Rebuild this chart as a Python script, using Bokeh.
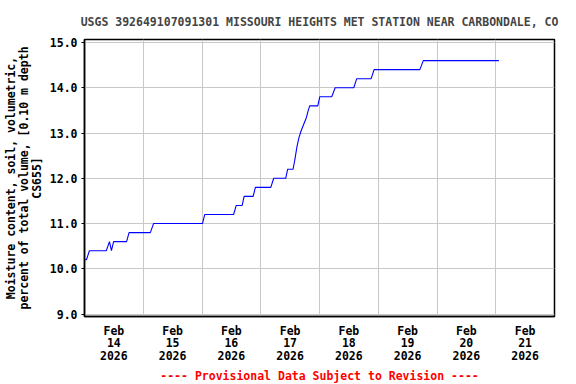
import pandas as pd
from bokeh.plotting import figure
from bokeh.models import FixedTicker, Range1d, Title, NumeralTickFormatter
from bokeh.embed import file_html
from bokeh.resources import INLINE

# ---- data ----
start = pd.Timestamp("2026-02-14 00:00")
hours = [0.0, 0.8, 2.0, 8.9, 10.2, 11.0, 11.9, 17.2, 18.2, 26.9, 28.2, 48.2, 49.1,
         60.9, 62.0, 64.4, 65.2, 68.9, 69.8, 76.1, 77.3, 82.2, 83.0, 85.2, 85.9,
         86.8, 87.6, 88.5, 89.6, 90.7, 91.4, 92.0, 95.3, 96.1, 101.0, 102.4,
         110.0, 111.2, 117.1, 118.3, 137.0, 138.4, 169.3]
moisture = [10.2, 10.2, 10.4, 10.4, 10.6, 10.4, 10.6, 10.6, 10.8, 10.8, 11.0, 11.0, 11.2,
            11.2, 11.4, 11.4, 11.6, 11.6, 11.8, 11.8, 12.0, 12.0, 12.2, 12.2, 12.4,
            12.7, 12.9, 13.05, 13.2, 13.35, 13.5, 13.6, 13.6, 13.8, 13.8, 14.0,
            14.0, 14.2, 14.2, 14.4, 14.4, 14.6, 14.6]
y_ticks = [9.0, 10.0, 11.0, 12.0, 13.0, 14.0, 15.0]
day_labels = ["Feb\n14\n2026", "Feb\n15\n2026", "Feb\n16\n2026", "Feb\n17\n2026",
              "Feb\n18\n2026", "Feb\n19\n2026", "Feb\n20\n2026", "Feb\n21\n2026"]
title_text = "USGS 392649107091301 MISSOURI HEIGHTS MET STATION NEAR CARBONDALE, CO"
y_label = "Moisture content, soil, volumetric,\npercent of total volume, [0.10 m depth\nCS655]"
note_text = "---- Provisional Data Subject to Revision ----"

times = [start + pd.Timedelta(hours=h) for h in hours]

FONT = "DejaVu Sans Mono"
FS = "11.5px"

def ms(ts):
    return ts.value / 1e6

noon_ticks = [ms(start + pd.Timedelta(hours=12 + 24 * i)) for i in range(len(day_labels))]
midnight_ticks = [ms(start + pd.Timedelta(days=i)) for i in range(9)]

p = figure(frame_width=470, frame_height=277, x_axis_type="datetime",
           output_backend="svg", toolbar_location=None,
           x_range=Range1d(ms(start), ms(start + pd.Timedelta(days=8))),
           y_range=Range1d(8.947, 15.066),
           min_border_left=84, min_border_right=22, min_border_top=39, min_border_bottom=68)

p.title.text = title_text
p.title.text_font = FONT
p.title.text_font_size = FS
p.title.text_font_style = "bold"
p.title.align = "center"
p.title.standoff = 21

p.line(times, moisture, line_color="#0000ff", line_width=1.1)

# x axis
p.xaxis.ticker = FixedTicker(ticks=noon_ticks)
p.xaxis.major_label_overrides = {t: lab for t, lab in zip(noon_ticks, day_labels)}
p.xaxis.major_tick_out = 0
p.xaxis.major_tick_in = 0
p.xaxis.minor_tick_out = 0
p.xaxis.minor_tick_in = 0
p.xaxis.major_label_standoff = 7
p.xaxis.major_label_text_font = FONT
p.xaxis.major_label_text_font_size = FS
p.xaxis.major_label_text_font_style = "bold"
p.xaxis.major_label_text_line_height = 0.9
p.xgrid.ticker = FixedTicker(ticks=midnight_ticks)

# y axis
p.yaxis.ticker = FixedTicker(ticks=y_ticks)
p.yaxis.formatter = NumeralTickFormatter(format="0.0")
p.yaxis.major_tick_out = 3
p.yaxis.major_tick_in = 0
p.yaxis.minor_tick_out = 0
p.yaxis.minor_tick_in = 0
p.yaxis.major_label_standoff = 4
p.yaxis.major_label_text_font = FONT
p.yaxis.major_label_text_font_size = FS
p.yaxis.major_label_text_font_style = "bold"
p.yaxis.axis_label = y_label
p.yaxis.axis_label_text_font = FONT
p.yaxis.axis_label_text_font_size = FS
p.yaxis.axis_label_text_font_style = "bold"
p.yaxis.axis_label_text_line_height = 0.93
p.yaxis.axis_label_standoff = 3

for ax in (p.xaxis, p.yaxis):
    ax.axis_line_color = "black"
    ax.axis_line_width = 1.5
    ax.major_tick_line_color = "black"
    ax.major_label_text_color = "black"
    ax.axis_label_text_color = "black"

p.grid.grid_line_color = "#c8c8c8"
p.grid.grid_line_width = 1
p.outline_line_color = "black"
p.outline_line_width = 1.5
p.background_fill_color = "white"
p.border_fill_color = "white"

p.add_layout(Title(text=note_text, text_color="red", text_font=FONT, standoff=2,
                   text_font_size=FS, text_font_style="bold", align="center"), "below")

open("out.html", "w").write(file_html(p, INLINE))
